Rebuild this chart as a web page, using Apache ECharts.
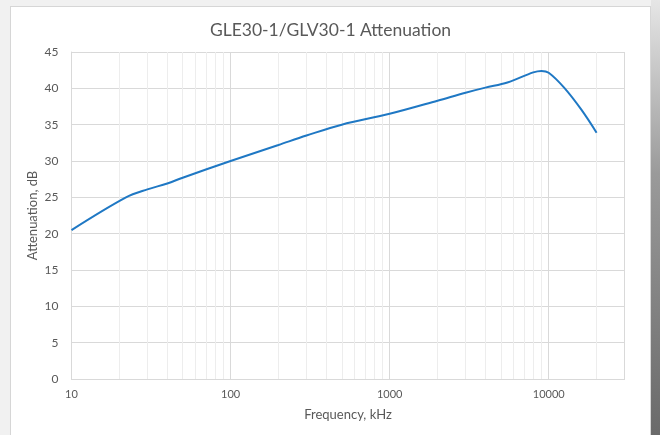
<!DOCTYPE html>
<html>
<head>
<meta charset="utf-8">
<script src="https://cdn.jsdelivr.net/npm/echarts@6/dist/echarts.min.js"></script>
<style>
html,body{margin:0;padding:0;width:660px;height:435px;overflow:hidden;background:#f1f1f1;}
#bgR{position:absolute;left:651px;top:0;width:9px;height:435px;background:linear-gradient(#e6e6e6,#9a9a9a 40%,#6a6a6a);}
#card{position:absolute;left:10px;top:6px;width:641px;height:432px;background:#fff;border:1px solid #d6d6d6;box-sizing:border-box;}
#chart{position:absolute;left:10px;top:6px;width:641px;height:429px;}
</style>
</head>
<body>
<div id="bgR"></div>
<div id="card"></div>
<div id="chart"></div>
<script>
const titleText = 'GLE30-1/GLV30-1 Attenuation';
const xName = 'Frequency, kHz';
const yName = 'Attenuation, dB';
const frequency = [10, 22, 30, 40, 50, 100, 200, 300, 500, 1000, 2000, 3000, 4000, 5500, 8000, 9000, 10000, 12500, 16000, 20000];
const attenuation = [20.5, 25.0, 26.1, 26.9, 27.7, 30.0, 32.2, 33.5, 35.0, 36.5, 38.3, 39.4, 40.1, 40.8, 42.2, 42.4, 42.15, 40.1, 37.1, 33.9];
const minorGrid = [20,30,40,50,60,70,80,90,200,300,400,500,600,700,800,900,2000,3000,4000,5000,6000,7000,8000,9000,20000];
const xMin = 10, xMax = 30000;
const yMin = 0, yMax = 45, yStep = 5;

const chart = echarts.init(document.getElementById('chart'), null, {renderer:'canvas'});
const txt = '#595959';
const font = 'Lato, "Open Sans", sans-serif';
chart.setOption({
  animation:false,
  title:{text:titleText,left:'center',top:10,textStyle:{fontFamily:font,fontSize:17.5,fontWeight:'normal',color:txt}},
  grid:{left:61.5,right:26.4,top:46,bottom:56},
  xAxis:{
    type:'log',logBase:10,min:xMin,max:xMax,
    name:xName,nameLocation:'middle',nameGap:29,nameMoveOverlap:false,
    nameTextStyle:{fontFamily:font,fontSize:13,color:txt},
    axisLine:{lineStyle:{color:'#d9d9d9'}},
    axisTick:{show:false},
    axisLabel:{fontFamily:font,fontSize:11,color:txt,margin:10,
      formatter:function(v){const l=Math.log10(v);return Math.abs(l-Math.round(l))<1e-6?String(Math.round(v)):'';}},
    splitLine:{show:true,lineStyle:{color:'#d9d9d9'}}
  },
  yAxis:{
    type:'value',min:yMin,max:yMax,interval:yStep,
    name:yName,nameLocation:'middle',nameGap:32,nameMoveOverlap:false,
    nameTextStyle:{fontFamily:font,fontSize:13,color:txt},
    axisLine:{show:true,lineStyle:{color:'#d9d9d9'}},
    axisTick:{show:false},
    axisLabel:{fontFamily:font,fontSize:12,color:txt,margin:13},
    splitLine:{lineStyle:{color:'#d9d9d9'}}
  },
  series:[{
    type:'line',
    data:[],
    z:1,
    markLine:{
      silent:true,symbol:['none','none'],label:{show:false},animation:false,
      lineStyle:{color:'#ededed',width:1,type:'solid'},
      data:minorGrid.map(v=>({xAxis:v})).concat([{xAxis:xMax,lineStyle:{color:'#d9d9d9'}}])
    }
  },{
    type:'line',
    data:frequency.map((f,i)=>[f,attenuation[i]]),
    smooth:0.35,
    showSymbol:false,
    lineStyle:{color:'#1f78c4',width:2},
    itemStyle:{color:'#1f78c4'},
    z:5
  }]
});
</script>
</body>
</html>
